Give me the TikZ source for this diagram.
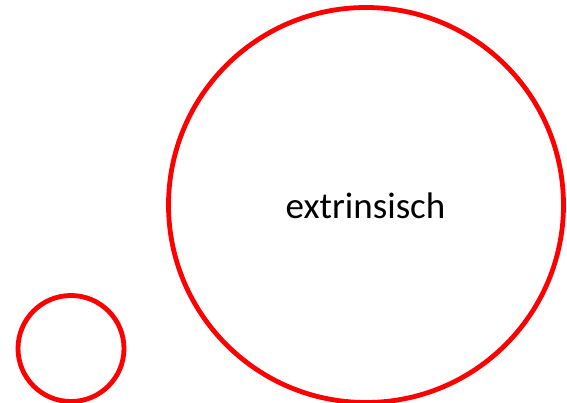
\documentclass[tikz,border=0pt]{standalone}
\usepackage{fontspec}
\setmainfont{Carlito}
\begin{document}
\begin{tikzpicture}[x=1pt,y=-1pt,
  ring/.style={draw=red,line width=4.8pt,circle,inner sep=0pt},
  label/.style={font=\fontsize{37}{41}\selectfont,anchor=base,inner sep=0pt}]
\useasboundingbox (0,0) rectangle (567,403);
\node[ring,minimum size=395pt] (big) at (366,205) {};
\node[ring,minimum size=106pt] (small) at (71,348.5) {};
\node[label] (txt) at (365.5,218.5) {extrinsisch};
\end{tikzpicture}
\end{document}
